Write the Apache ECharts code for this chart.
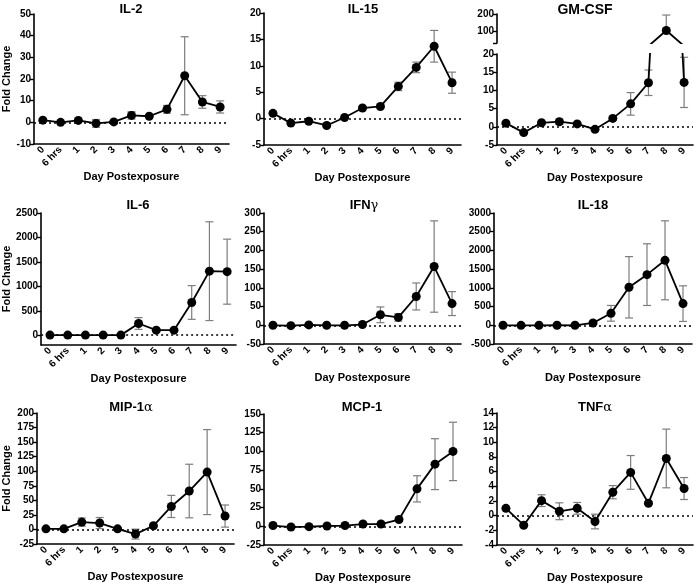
<!DOCTYPE html>
<html><head><meta charset="utf-8">
<script src="https://cdn.jsdelivr.net/npm/echarts@6/dist/echarts.min.js"></script>
<style>html,body{margin:0;padding:0;background:#fff}#c{width:696px;height:585px}</style>
</head><body><div id="c"></div>
<script>
const categories = ['0', '6 hrs', '1', '2', '3', '4', '5', '6', '7', '8', '9'];

const il2Mean = [1.0, 0.0, 0.9, -0.5, 0.2, 3.2, 2.8, 6.0, 21.5, 9.4, 7.1];
const il2Err  = [0.5, 0.3, 0.5, 1.8, 0.4, 1.7, 0.6, 1.8, 18.0, 2.9, 2.8];

const il15Mean = [1.0, -0.85, -0.5, -1.3, 0.2, 2.0, 2.3, 6.1, 9.7, 13.7, 6.8];
const il15Err  = [0.2, 0.2, 0.2, 0.2, 0.2, 0.3, 0.3, 0.8, 1.0, 3.0, 2.0];

const gmcsfMean    = [1.0, -1.6, 1.1, 1.4, 0.8, -0.7, 2.3, 6.3, 12.1, 103, 12.2];
const gmcsfErrUp   = [0.3, 0.3, 0.3, 0.7, 0.3, 0.5, 0.4, 3.1, 3.5, 91, 6.9];
const gmcsfErrDown = [0.3, 0.3, 0.3, 0.7, 0.3, 0.5, 0.4, 3.1, 3.5, 0, 6.9];

const il6Mean = [2, 2, 2, 2, 2, 240, 103, 103, 670, 1310, 1300];
const il6Err  = [5, 5, 5, 5, 5, 120, 20, 20, 345, 1010, 665];

const ifngMean = [0, -1, 1, 0, 0, 2, 28, 21, 77, 157, 58];
const ifngErr  = [1, 1, 1, 1, 1, 2, 21, 10, 36, 122, 32];

const il18Mean = [0, -2, 0, 2, 0, 62, 320, 1015, 1353, 1736, 579];
const il18Err  = [10, 10, 10, 10, 10, 20, 210, 820, 824, 1055, 476];

const mip1aMean = [1, 1, 12.6, 11, 1, -8, 6.3, 39.5, 66, 98.5, 23];
const mip1aErr  = [1, 1, 7, 9.5, 1, 8.5, 1, 19, 46, 73, 19];

const mcp1Mean = [1, -1, -0.5, 0.4, 1, 3, 3, 9, 50, 83, 100];
const mcp1Err  = [0.5, 0.5, 0.5, 0.5, 0.5, 1, 1, 1.5, 17.5, 34, 39];

const tnfaMean = [1.0, -1.3, 2.05, 0.6, 1.0, -0.8, 3.2, 5.9, 1.7, 7.8, 3.7];
const tnfaErr  = [0.2, 0.2, 0.8, 1.15, 0.8, 1.0, 0.9, 2.3, 0.2, 4.0, 1.5];

const FONT = "'Liberation Sans', Arial, sans-serif";

function errData(mean, up, down) {
  return mean.map((m, i) => [i, m - down[i], m + up[i]]);
}
function lineData(mean) { return mean.map((m, i) => [i, m]); }

function errRender(params, api) {
  const x = api.value(0), lo = api.value(1), hi = api.value(2);
  const pLo = api.coord([x, lo]), pHi = api.coord([x, hi]);
  const cs = params.coordSys;
  const top = cs.y, bot = cs.y + cs.height;
  const cx = pLo[0];
  let y1 = Math.max(top, Math.min(bot, pHi[1]));
  let y2 = Math.max(top, Math.min(bot, pLo[1]));
  const st = { stroke: '#7d7d7d', lineWidth: 1.2 };
  const hw = 4;
  const ch = [];
  if (y2 - y1 > 0.5) ch.push({ type: 'line', shape: { x1: cx, y1: y1, x2: cx, y2: y2 }, style: st });
  if (pHi[1] >= top && pHi[1] <= bot) ch.push({ type: 'line', shape: { x1: cx - hw, y1: pHi[1], x2: cx + hw, y2: pHi[1] }, style: st });
  if (pLo[1] >= top && pLo[1] <= bot) ch.push({ type: 'line', shape: { x1: cx - hw, y1: pLo[1], x2: cx + hw, y2: pLo[1] }, style: st });
  return { type: 'group', children: ch };
}

// grid layout: [left, top, width, height]
const grids = [
  [33, 14, 196, 130],   // 0 IL-2
  [264, 13, 197, 132],  // 1 IL-15
  [497, 54, 196, 91],   // 2 GM-CSF lower
  [497, 14, 196, 29],   // 3 GM-CSF upper
  [39, 213, 197, 132],  // 4 IL-6
  [264, 213, 197, 131], // 5 IFNg
  [494, 213, 198, 131], // 6 IL-18
  [37, 413, 197, 131],  // 7 MIP-1a
  [264, 414, 198, 131], // 8 MCP-1
  [497, 413, 196, 132]  // 9 TNFa
];

const axisLabelStyle = { fontSize: 10, fontWeight: 'bold', color: '#000', fontFamily: FONT };

function xAx(gi, nameGap, show) {
  return {
    type: 'category', gridIndex: gi, data: categories, show: show,
    axisLine: { onZero: false, lineStyle: { color: '#000', width: 1.6 } },
    axisTick: { show: false },
    axisLabel: Object.assign({ rotate: 45, margin: 4, interval: 0 }, axisLabelStyle),
    splitLine: { show: false },
    name: 'Day Postexposure', nameLocation: 'middle', nameGap: nameGap,
    nameTextStyle: { fontSize: 11, fontWeight: 'bold', color: '#000', fontFamily: FONT }
  };
}
function yAx(gi, min, max, interval, extra) {
  const a = {
    type: 'value', gridIndex: gi, min: min, max: max, interval: interval,
    axisLine: { show: true, lineStyle: { color: '#000', width: 1.6 } },
    axisTick: { show: true, length: 4, lineStyle: { color: '#000', width: 1.4 } },
    axisLabel: Object.assign({ margin: 3, formatter: v => String(v) }, axisLabelStyle),
    splitLine: { show: false }
  };
  if (extra) {
    if (extra.labels) { a.axisLabel.customValues = extra.labels; delete a.interval; }
    if (extra.ticks) { a.axisTick.customValues = extra.ticks; }
    if (extra.name) {
      a.name = 'Fold Change'; a.nameLocation = 'middle'; a.nameGap = extra.name;
      a.nameTextStyle = { fontSize: 11, fontWeight: 'bold', color: '#000', fontFamily: FONT };
    }
  }
  return a;
}

const xAxes = [
  xAx(0, 26, true), xAx(1, 26, true), xAx(2, 26, true), xAx(3, 26, false),
  xAx(4, 28, true), xAx(5, 28, true), xAx(6, 28, true),
  xAx(7, 27, true), xAx(8, 27, true), xAx(9, 27, true)
];
const il6Ticks = [0, 500, 1000, 1500, 2000, 2500];
const yAxes = [
  yAx(0, -10, 50, 10, { name: 22 }),
  yAx(1, -5, 20, 5),
  yAx(2, -5, 20, 5),
  yAx(3, 30, 200, null, { labels: [100, 200], ticks: [30, 100, 200] }),
  yAx(4, -200, 2500, null, { labels: il6Ticks, ticks: il6Ticks, name: 27 }),
  yAx(5, -50, 300, 50),
  yAx(6, -500, 3000, 500),
  yAx(7, -25, 200, 25, { name: 25 }),
  yAx(8, -25, 150, 25),
  yAx(9, -4, 14, 2)
];

function zeroMark() {
  return {
    silent: true, symbol: ['none', 'none'], label: { show: false },
    lineStyle: { color: '#000', type: [2, 3], width: 1.5 },
    data: [{ yAxis: 0 }], animation: false
  };
}

const series = [];
function addPanel(gi, mean, up, down, zero) {
  series.push({
    type: 'custom', xAxisIndex: gi, yAxisIndex: gi, renderItem: errRender,
    data: errData(mean, up, down), z: 2, silent: true
  });
  const s = {
    type: 'line', xAxisIndex: gi, yAxisIndex: gi, data: lineData(mean),
    symbol: 'circle', symbolSize: 9, clip: true,
    itemStyle: { color: '#000' }, lineStyle: { color: '#000', width: 1.8 }, z: 3
  };
  if (zero) s.markLine = zeroMark();
  series.push(s);
}
addPanel(0, il2Mean, il2Err, il2Err, true);
addPanel(1, il15Mean, il15Err, il15Err, true);
addPanel(2, gmcsfMean, gmcsfErrUp, gmcsfErrDown, true);
addPanel(3, gmcsfMean, gmcsfErrUp, gmcsfErrDown, false);
addPanel(4, il6Mean, il6Err, il6Err, true);
addPanel(5, ifngMean, ifngErr, ifngErr, true);
addPanel(6, il18Mean, il18Err, il18Err, true);
addPanel(7, mip1aMean, mip1aErr, mip1aErr, true);
addPanel(8, mcp1Mean, mcp1Err, mcp1Err, true);
addPanel(9, tnfaMean, tnfaErr, tnfaErr, true);

const greek = { g: { fontFamily: "'DejaVu Serif', serif", fontWeight: 'normal', fontSize: 13, color: '#000' } };
function ttl(text, cx, top, size) {
  return {
    text: text, left: cx, top: top, textAlign: 'center', padding: 0,
    textStyle: { fontSize: size || 13, fontWeight: 'bold', color: '#000', fontFamily: FONT, rich: greek }
  };
}
const titles = [
  ttl('IL-2', 131, 3), ttl('IL-15', 363, 3), ttl('GM-CSF', 585, 3, 14),
  ttl('IL-6', 138, 199), ttl('IFN{g|γ}', 364, 199), ttl('IL-18', 593, 199),
  ttl('MIP-1{g|α}', 131, 401), ttl('MCP-1', 362, 401), ttl('TNF{g|α}', 595, 401)
];

const chart = echarts.init(document.getElementById('c'), null, { renderer: 'canvas' });
chart.setOption({
  animation: false,
  backgroundColor: '#fff',
  textStyle: { fontFamily: FONT },
  title: titles,
  grid: grids.map(g => ({ left: g[0], top: g[1], width: g[2], height: g[3], containLabel: false })),
  xAxis: xAxes,
  yAxis: yAxes,
  series: series
});
</script>
</body></html>
